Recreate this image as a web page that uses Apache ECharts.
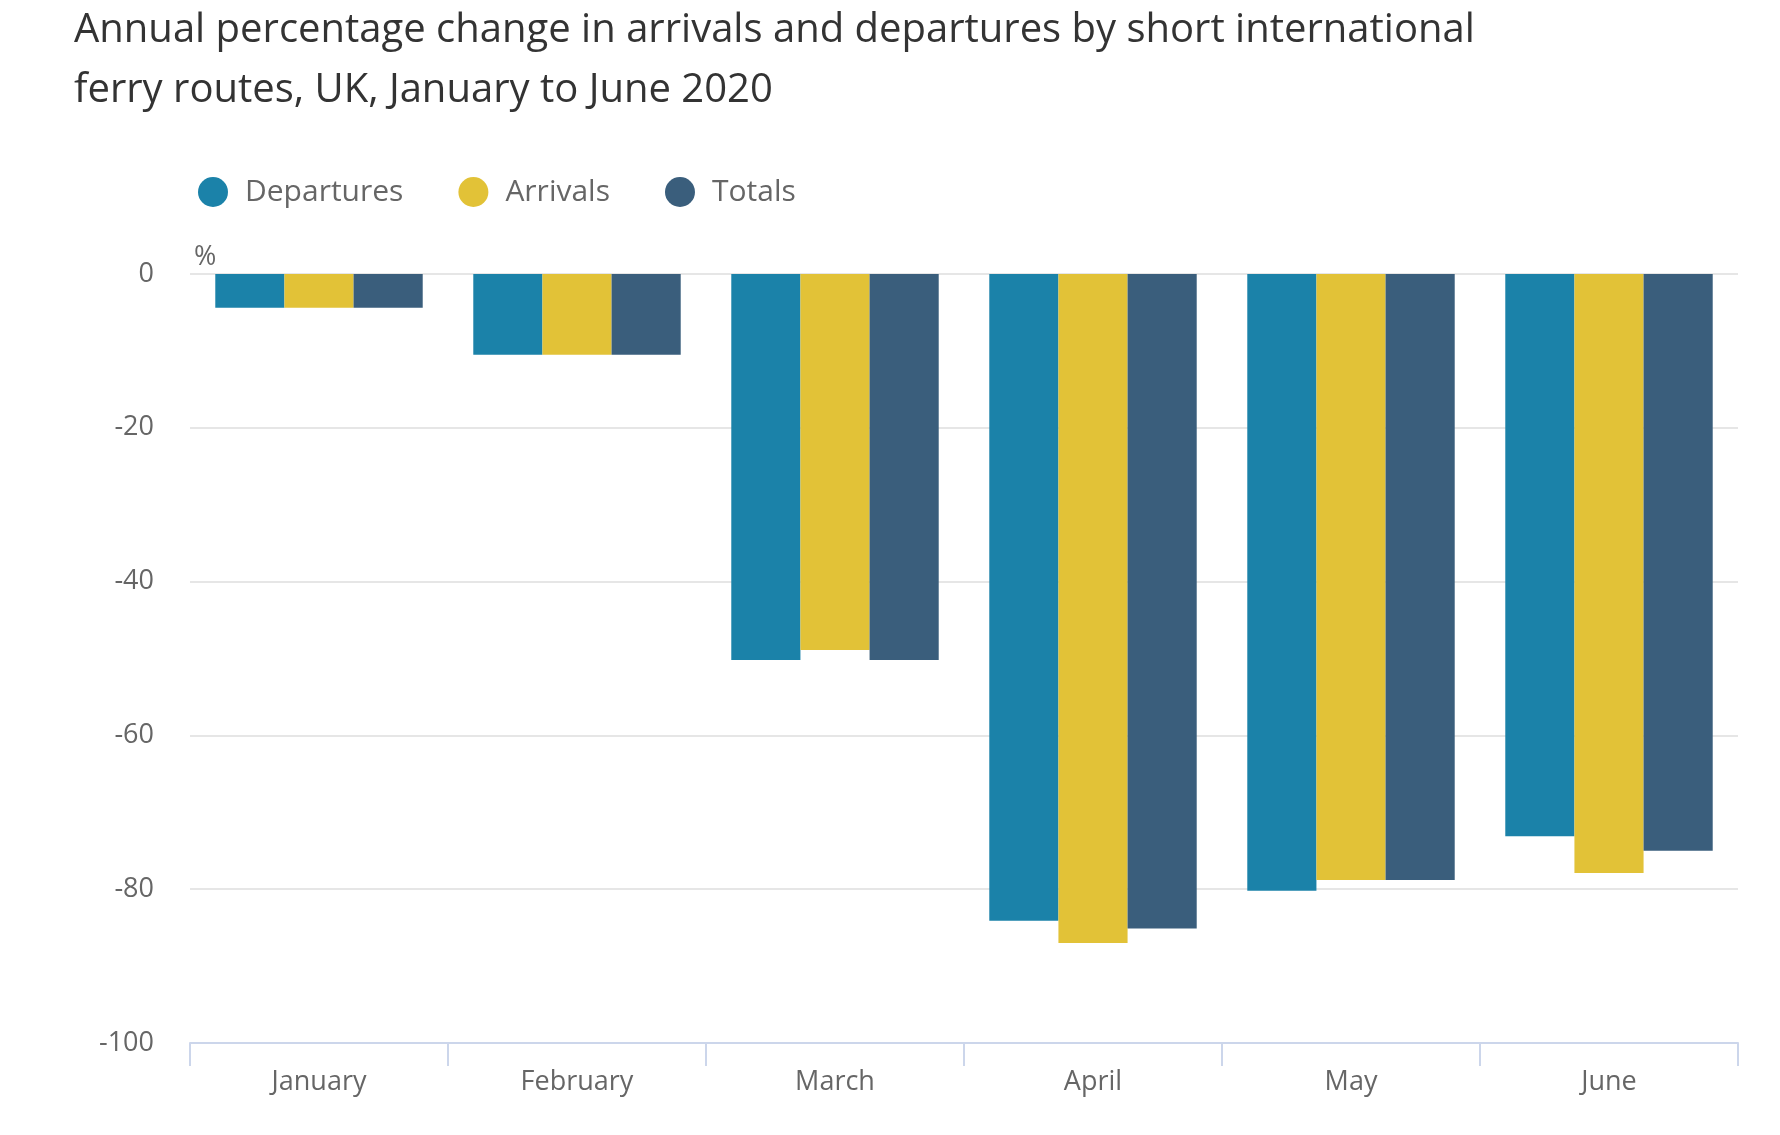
<!DOCTYPE html>
<html>
<head>
<meta charset="utf-8">
<script src="https://cdn.jsdelivr.net/npm/echarts@6/dist/echarts.min.js"></script>
<style>
html,body{margin:0;padding:0;background:#fff;}
#chart{width:1780px;height:1135px;}
</style>
</head>
<body>
<div id="chart"></div>
<script>
const titleText = 'Annual percentage change in arrivals and departures by short international\nferry routes, UK, January to June 2020';
const categories = ['January', 'February', 'March', 'April', 'May', 'June'];
const seriesNames = ['Departures', 'Arrivals', 'Totals'];
const departures = [-4.4, -10.5, -50.2, -84.1, -80.2, -73.1];
const arrivals = [-4.4, -10.5, -48.9, -87.0, -78.8, -77.9];
const totals = [-4.4, -10.5, -50.2, -85.1, -78.8, -75.0];
const colors = ['#1b82a9', '#e2c237', '#3a5e7c'];

const chart = echarts.init(document.getElementById('chart'), null, {renderer: 'canvas'});
const font = '"Open Sans", sans-serif';
const values = [departures, arrivals, totals];

chart.setOption({
  animation: false,
  backgroundColor: '#ffffff',
  color: colors,
  textStyle: {fontFamily: font},
  title: {
    text: titleText,
    left: 69,
    top: -4,
    textStyle: {fontFamily: font, fontSize: 40, fontWeight: 'normal', color: '#333333', lineHeight: 60}
  },
  legend: {
    left: 193,
    top: 172,
    icon: 'circle',
    itemWidth: 30,
    itemHeight: 30,
    itemGap: 55,
    data: seriesNames,
    textStyle: {fontFamily: font, fontSize: 30, color: '#666666', padding: [0, 0, 0, 12]}
  },
  grid: {left: 190, right: 42, top: 274, bottom: 92, containLabel: false},
  xAxis: {
    type: 'category',
    data: categories,
    position: 'bottom',
    axisLine: {onZero: false, lineStyle: {color: '#ccd6eb', width: 2}},
    axisTick: {show: true, length: 23, lineStyle: {color: '#ccd6eb', width: 2}},
    axisLabel: {fontFamily: font, fontSize: 27, color: '#666666', margin: 26}
  },
  yAxis: {
    type: 'value',
    min: -100,
    max: 0,
    interval: 20,
    name: '%',
    nameLocation: 'end',
    nameGap: 17,
    nameTextStyle: {fontFamily: font, fontSize: 27, color: '#666666', align: 'left', verticalAlign: 'middle', padding: [0, 0, 0, 4]},
    axisLine: {show: false},
    axisTick: {show: false},
    splitLine: {lineStyle: {color: '#e6e6e6', width: 2}},
    axisLabel: {fontFamily: font, fontSize: 27, color: '#666666', margin: 36}
  },
  series: seriesNames.map((name, i) => ({
    name: name,
    type: 'bar',
    data: values[i],
    barGap: '0%',
    barCategoryGap: '19.6%'
  }))
});
</script>
</body>
</html>
